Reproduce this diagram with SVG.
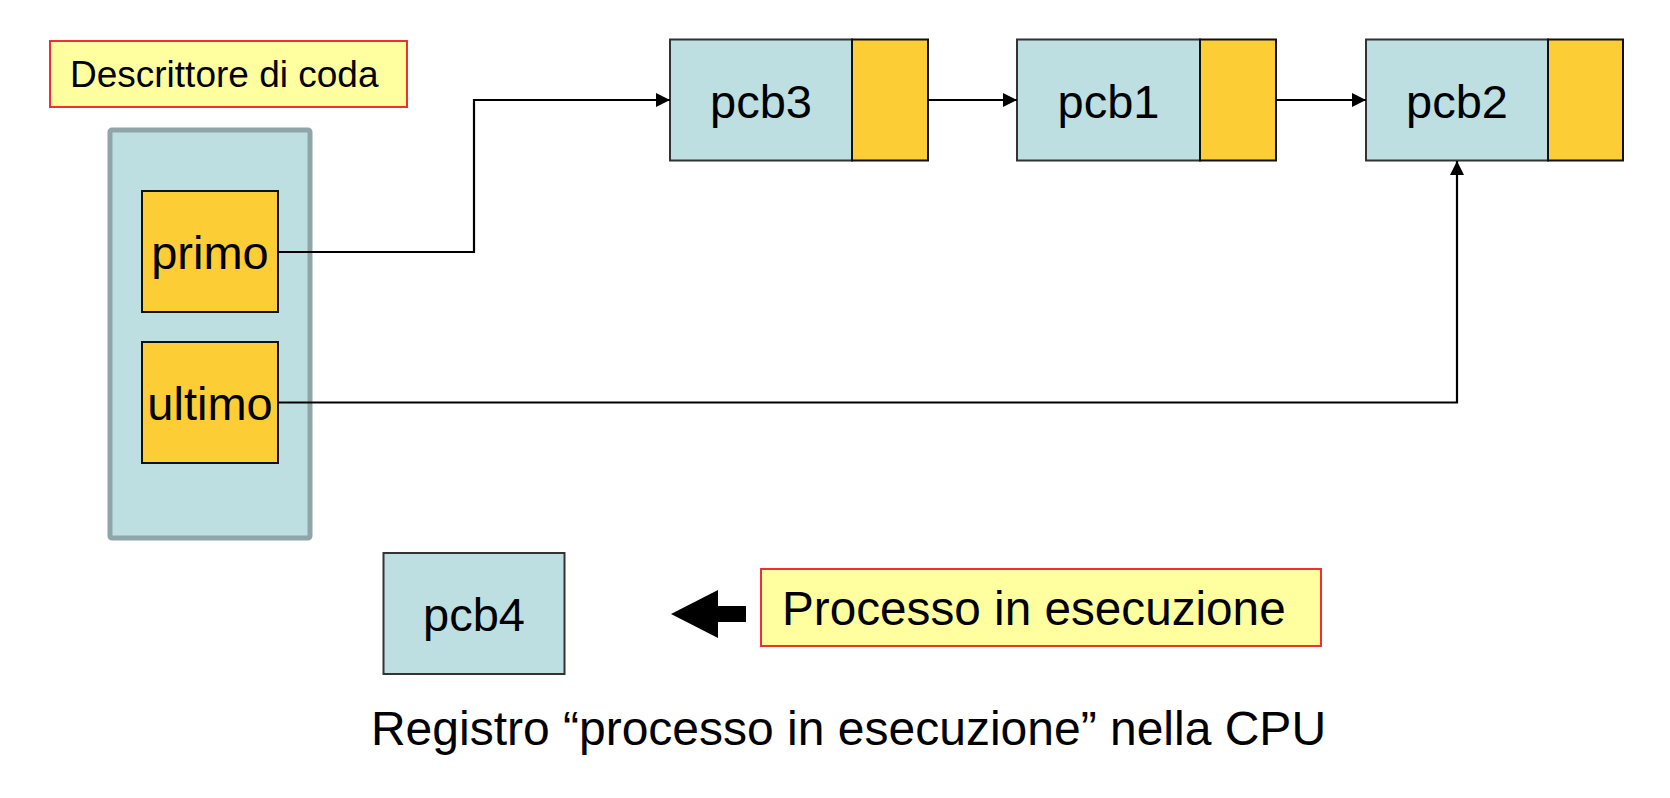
<svg xmlns="http://www.w3.org/2000/svg" width="1670" height="798" viewBox="0 0 1670 798">
<style>
.t{font-family:"Liberation Sans",Arial,sans-serif;fill:#000}
.lb{fill:#BEDFE2;stroke:#333;stroke-width:2}
.yb{fill:#FCCD35;stroke:#111;stroke-width:2}
.note{fill:#FFFFA0;stroke:#F03030;stroke-width:2}
.conn{fill:none;stroke:#000;stroke-width:2.2}
</style>
<defs>
<marker id="ah" viewBox="0 0 10 10" refX="10" refY="5" markerWidth="14" markerHeight="14" markerUnits="userSpaceOnUse" orient="auto">
<path d="M0,0 L10,5 L0,10 z" fill="#000"/>
</marker>
</defs>
<rect width="1670" height="798" fill="#fff"/>
<g id="descrittore-label">
<rect class="note" x="50" y="41" width="357" height="66"/>
<text class="t" x="70" y="87" font-size="37">Descrittore di coda</text>
</g>
<g id="descrittore">
<rect x="110" y="130" width="200" height="408" fill="#BEDFE2" stroke="#8FA5A8" stroke-width="5" rx="2"/>
</g>
<g id="primo">
<rect class="yb" x="142" y="191" width="136" height="121"/>
<text class="t" x="210" y="269" font-size="47" text-anchor="middle">primo</text>
</g>
<g id="ultimo">
<rect class="yb" x="142" y="342" width="136" height="121"/>
<text class="t" x="210" y="420" font-size="47" text-anchor="middle">ultimo</text>
</g>
<g id="pcb3">
<rect class="lb" x="670" y="39.5" width="182" height="121"/>
<rect class="yb" x="852" y="39.5" width="76" height="121"/>
<text class="t" x="761" y="118" font-size="47" text-anchor="middle">pcb3</text>
</g>
<g id="pcb1">
<rect class="lb" x="1017" y="39.5" width="183" height="121"/>
<rect class="yb" x="1200" y="39.5" width="76" height="121"/>
<text class="t" x="1108.5" y="118" font-size="47" text-anchor="middle">pcb1</text>
</g>
<g id="pcb2">
<rect class="lb" x="1366" y="39.5" width="182" height="121"/>
<rect class="yb" x="1548" y="39.5" width="75" height="121"/>
<text class="t" x="1457" y="118" font-size="47" text-anchor="middle">pcb2</text>
</g>
<g id="pcb4">
<rect class="lb" x="383.5" y="553" width="181" height="121"/>
<text class="t" x="474" y="631" font-size="47" text-anchor="middle">pcb4</text>
</g>
<g id="processo">
<rect class="note" x="761" y="569" width="560" height="77"/>
<text class="t" x="782" y="625" font-size="47.7">Processo in esecuzione</text>
</g>
<g id="connectors">
<polyline class="conn" points="278,252 474,252 474,100 670,100" marker-end="url(#ah)"/>
<line class="conn" x1="928" y1="100" x2="1017" y2="100" marker-end="url(#ah)"/>
<line class="conn" x1="1276" y1="100" x2="1366" y2="100" marker-end="url(#ah)"/>
<polyline class="conn" points="278,402.5 1457,402.5 1457,161" marker-end="url(#ah)"/>
<polygon points="671,614 718,590 718,606 746,606 746,622 718,622 718,638" fill="#000"/>
</g>
<g id="caption">
<text class="t" x="848.5" y="745" font-size="48" text-anchor="middle">Registro “processo in esecuzione” nella CPU</text>
</g>
</svg>
